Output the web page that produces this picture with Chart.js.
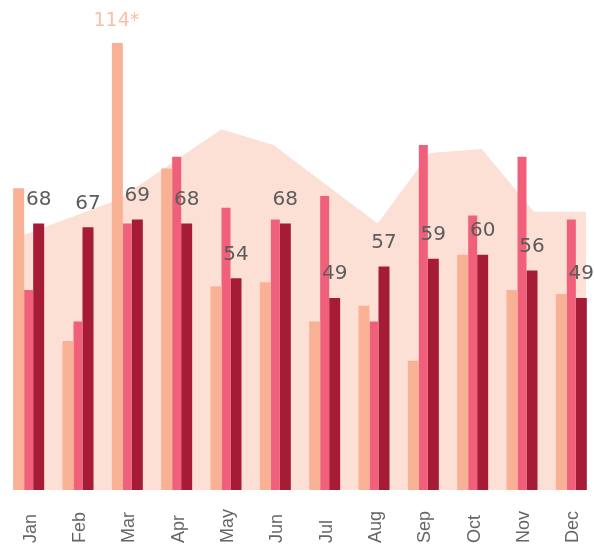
<!DOCTYPE html>
<html>
<head>
<meta charset="utf-8">
<script src="https://cdn.jsdelivr.net/npm/chart.js@4/dist/chart.umd.min.js"></script>
<style>
    body { margin: 0; overflow: hidden; background: #fff; }
    .layer { position: absolute; left: 0; top: 0; width: 597px; height: 544px; }
</style>
</head>
<body>
<div class="layer"><canvas id="areaChart"></canvas></div>
<div class="layer"><canvas id="barChart"></canvas></div>
<script>
let months = ['Jan', 'Feb', 'Mar', 'Apr', 'May', 'Jun', 'Jul', 'Aug', 'Sep', 'Oct', 'Nov', 'Dec'];
let lightValues = [77, 38, 114, 82, 52, 53, 43, 47, 33, 60, 51, 50];
let pinkValues = [51, 43, 68, 85, 72, 69, 75, 43, 88, 70, 85, 69];
let darkValues = [68, 67, 69, 68, 54, 68, 49, 57, 59, 60, 56, 49];
let areaValues = [64, 69, 74, 83, 92, 88, 78, 68, 86, 87, 71, 71];
let lightNotes = ['', '', '114*', '', '', '', '', '', '', '', '', ''];

var MonthChart = {
    init: function () {
        MonthChart.areaChart();
        MonthChart.barChart();
    },
    // numbers above the bars and the month names under them
    labelsPlugin: {
        id: 'barLabels',
        afterDatasetsDraw: function (chart) {
            let ctx = chart.ctx;
            let lightMeta = chart.getDatasetMeta(0);
            let darkMeta = chart.getDatasetMeta(2);
            ctx.save();
            ctx.textAlign = 'center';
            ctx.textBaseline = 'middle';
            ctx.font = '20px "DejaVu Sans"';
            ctx.fillStyle = '#5c5c5c';
            for (let i = 0; i < darkMeta.data.length; i++) {
                let bar = darkMeta.data[i];
                ctx.fillText(darkValues[i], bar.x, bar.y - 24);
            }
            ctx.font = '19px "DejaVu Sans"';
            ctx.fillStyle = '#fbbfa5';
            for (let i = 0; i < lightMeta.data.length; i++) {
                if (!lightNotes[i]) continue;
                let bar = lightMeta.data[i];
                ctx.fillText(lightNotes[i], bar.x - 1, bar.y - 22);
            }

            let xScale = chart.scales.x;
            ctx.font = '18px "Liberation Sans"';
            ctx.fillStyle = '#666666';
            ctx.textAlign = 'left';
            for (let i = 0; i < months.length; i++) {
                ctx.save();
                ctx.translate(xScale.getPixelForValue(i) + 2, 543);
                ctx.rotate(-Math.PI / 2);
                ctx.fillText(months[i], 0, 0);
                ctx.restore();
            }
            ctx.restore();
        }
    },
    areaChart: function () {
        let areaPoints = [];
        for (let i = 0; i < areaValues.length; i++) {
            areaPoints.push({x: i, y: areaValues[i]});
        }

        let canvas = document.getElementById('areaChart');
        let chart = new Chart(canvas, {
            type: 'line',
            data: {
                datasets: [{
                    label: 'area',
                    data: areaPoints,
                    fill: 'origin',
                    backgroundColor: '#fce0d6',
                    borderWidth: 0,
                    pointRadius: 0,
                    tension: 0
                }]
            },
            options: {
                responsive: true,
                maintainAspectRatio: false,
                animation: false,
                layout: {
                    padding: {left: 4, right: 1, top: 0, bottom: 54}
                },
                plugins: {
                    legend: {display: false},
                    tooltip: {enabled: false}
                },
                scales: {
                    x: {type: 'linear', display: false, min: -0.173, max: 11.192},
                    y: {display: false, min: 0, max: 125}
                }
            }
        });
    },
    barChart: function () {
        let chartData = {
            labels: months,
            datasets: [{
                label: 'light',
                data: lightValues,
                backgroundColor: '#f9b196',
                barPercentage: 1.1,
                categoryPercentage: 0.608
            }, {
                label: 'pink',
                data: pinkValues,
                backgroundColor: '#f0607b',
                barPercentage: 0.9,
                categoryPercentage: 0.608
            }, {
                label: 'dark',
                data: darkValues,
                backgroundColor: '#a61c37',
                barPercentage: 1.1,
                categoryPercentage: 0.608
            }]
        };

        let chartOptions = {
            responsive: true,
            maintainAspectRatio: false,
            animation: false,
            layout: {
                padding: {left: 4, right: 1, top: 0, bottom: 0}
            },
            plugins: {
                legend: {display: false},
                tooltip: {enabled: false}
            },
            scales: {
                x: {
                    grid: {display: false},
                    border: {display: false},
                    ticks: {display: false},
                    afterFit: function (scale) {
                        scale.height = 54;
                    }
                },
                y: {
                    display: false,
                    min: 0,
                    max: 125
                }
            }
        };

        let canvas = document.getElementById('barChart');
        let chart = new Chart(canvas, {
            type: 'bar',
            data: chartData,
            options: chartOptions,
            plugins: [MonthChart.labelsPlugin]
        });
    }
};

MonthChart.init();
</script>
</body>
</html>
